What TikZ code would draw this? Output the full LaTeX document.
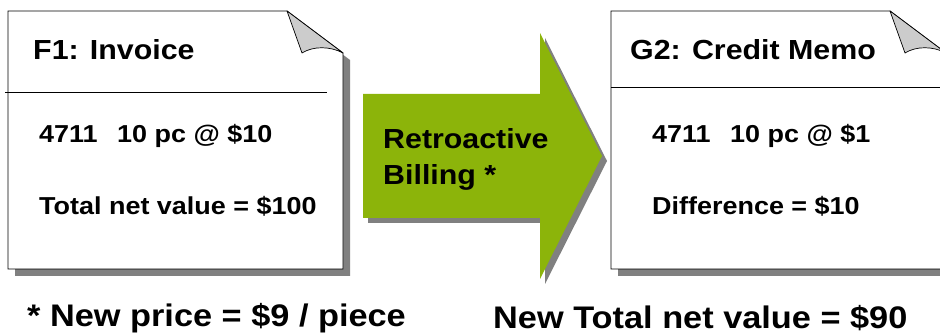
\documentclass[tikz,border=0pt]{standalone}
\usepackage{fontspec}
\setmainfont[FakeStretch=1.1]{Liberation Sans}
\usepackage{tikz}
\usetikzlibrary{positioning}

\definecolor{arrgreen}{RGB}{140,180,10}
\definecolor{shgray}{RGB}{128,128,128}
\definecolor{foldgray}{RGB}{204,204,204}

\begin{document}
\begin{tikzpicture}[
    x=1pt, y=-1pt,
    docbody/.style={draw, line width=0.8pt, fill=white},
    docshadow/.style={fill=shgray},
    fold/.style={draw, line width=0.7pt, fill=foldgray, line join=round},
    divider/.style={line width=0.8pt},
    txt/.style={inner sep=0pt, anchor=base west, font=\bfseries\fontsize{24.5}{29}\selectfont},
    ttl/.style={inner sep=0pt, anchor=base west, font=\bfseries\fontsize{27.6}{36}\selectfont},
    note/.style={inner sep=0pt, anchor=base west, font=\bfseries\fontsize{31.2}{38}\selectfont},
]
\clip (0,0) rectangle (940,336);

%% ── F1: Invoice (left document) ─────────────────────────────────────────────
\begin{scope}[shift={(8,11)}]
  \fill[docshadow, shift={(7,7)}] (0,0) -- (279,0) -- (335,42) -- (335,258) -- (0,258) -- cycle;
  \draw[docbody] (0,0) -- (279,0) -- (335,42) -- (335,258) -- (0,258) -- cycle;
  \draw[fold] (279,0) -- (294,42) .. controls (305,35) and (322,35) .. (335,42) -- cycle;
\end{scope}
\draw[divider] (5,92) -- (327,92);

\node[ttl] (inv)  at (33,60)  {F1: Invoice};
\node[txt] (inv1) at (39,143) {4711\hspace{12pt} 10 pc @ \$10};
\node[txt] (inv2) at (39,215) {Total net value = \$100};

%% ── Retroactive billing arrow ───────────────────────────────────────────────
\fill[shgray, shift={(5,5)}]
  (363,94) -- (540,94) -- (540,33) -- (602,156) -- (540,279) -- (540,218) -- (363,218) -- cycle;
\fill[arrgreen]
  (363,94) -- (540,94) -- (540,33) -- (602,156) -- (540,279) -- (540,218) -- (363,218) -- cycle;
\node[ttl, align=left] (rb) at (383,185) {Retroactive\\Billing *};

%% ── G2: Credit Memo (right document) ────────────────────────────────────────
\begin{scope}[shift={(611,11)}]
  \fill[docshadow, shift={(7,7)}] (0,0) -- (279,0) -- (335,42) -- (335,258) -- (0,258) -- cycle;
  \draw[docbody] (0,0) -- (279,0) -- (335,42) -- (335,258) -- (0,258) -- cycle;
  \draw[fold] (279,0) -- (294,42) .. controls (305,35) and (322,35) .. (335,42) -- cycle;
\end{scope}
\draw[divider] (611,87) -- (945,87);

\node[ttl] (cm)  at (630,60)  {G2: Credit Memo};
\node[txt] (cm1) at (652,143) {4711\hspace{12pt} 10 pc @ \$1};
\node[txt] (cm2) at (652,215) {Difference = \$10};

%% ── Notes below ─────────────────────────────────────────────────────────────
\node[note] (np) at (27,327)  {* New price = \$9 / piece};
\node[note] (nt) at (493,329) {New Total net value = \$90};

\end{tikzpicture}
\end{document}
